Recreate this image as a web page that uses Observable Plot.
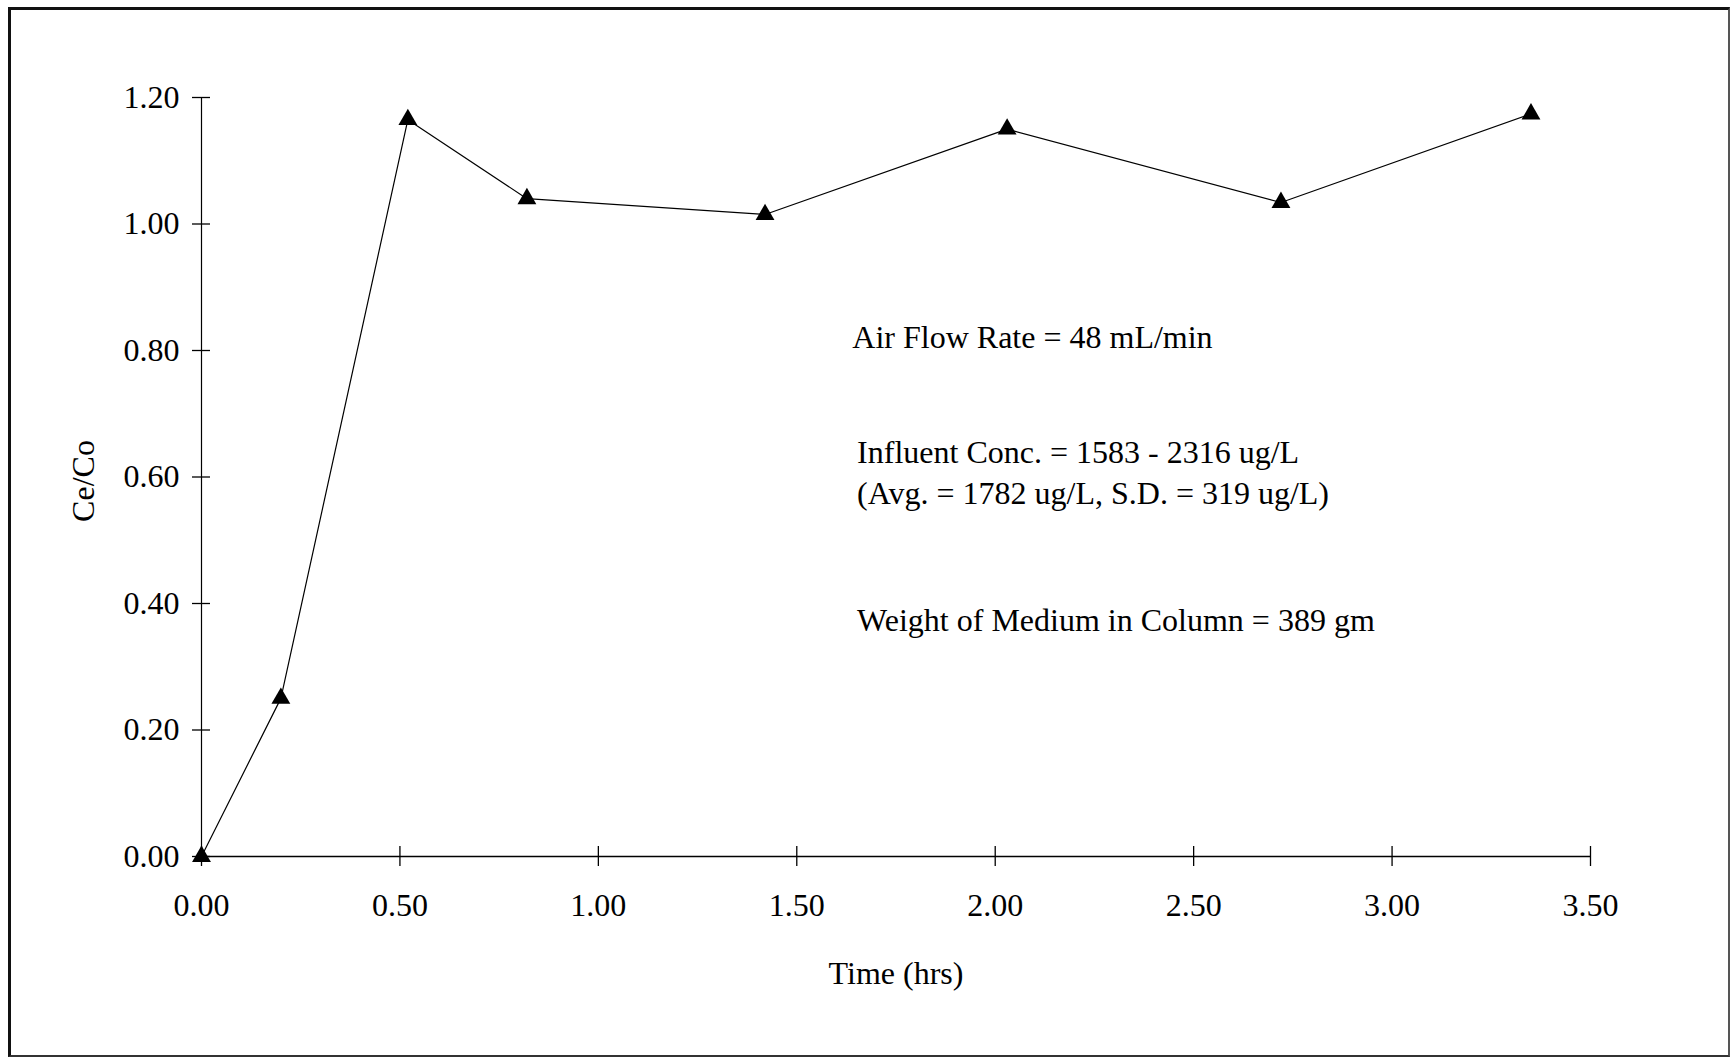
<!DOCTYPE html>
<html>
<head>
<meta charset="utf-8">
<script src="https://cdn.jsdelivr.net/npm/d3@7"></script>
<script src="https://cdn.jsdelivr.net/npm/@observablehq/plot@0.6"></script>
<style>
  html, body { margin: 0; padding: 0; background: #fff; }
  #wrap { position: relative; width: 1734px; height: 1057px; overflow: hidden; }
  #border { position: absolute; left: 8px; top: 7px; width: 1722px; height: 1050px;
            border-left: 3px solid #111; border-top: 3px solid #111; border-right: 2px solid #555; border-bottom: 2px solid #333; box-sizing: border-box; }
  svg { position: absolute; left: 0; top: 0; }
</style>
</head>
<body>
<div id="wrap"><div id="border"></div></div>
<script>
// Data
const timeHrs = [0.00, 0.20, 0.52, 0.82, 1.42, 2.03, 2.72, 3.35];
const ceCo    = [0.00, 0.25, 1.165, 1.04, 1.015, 1.15, 1.034, 1.174];
const xTicks = [0, 0.5, 1.0, 1.5, 2.0, 2.5, 3.0, 3.5];
const yTicks = [0, 0.2, 0.4, 0.6, 0.8, 1.0, 1.2];
const xLabel = "Time (hrs)";
const yLabel = "Ce/Co";
const notes = [
  "Air Flow Rate = 48 mL/min",
  "Influent Conc. = 1583 - 2316 ug/L",
  "(Avg. = 1782 ug/L, S.D. = 319 ug/L)",
  "Weight of Medium in Column = 389 gm"
];
// annotation anchors (data units)
const noteX = [1.64, 1.652, 1.652, 1.652];
const noteY = [0.82, 0.638, 0.574, 0.373];

const data = timeHrs.map((t, i) => ({t, v: ceCo[i]}));
const noteData = notes.map((s, i) => ({s, x: noteX[i], y: noteY[i]}));
const fmt = d3.format(".2f");

const chart = Plot.plot({
  width: 1734,
  height: 1057,
  marginLeft: 201,
  marginRight: 144,
  marginTop: 97,
  marginBottom: 201,
  style: {fontFamily: "'Liberation Serif', 'Times New Roman', serif", fontSize: "32px", color: "#000", background: "transparent"},
  x: {domain: [0, 3.5]},
  y: {domain: [0, 1.2]},
  marks: [
    Plot.ruleY([0], {stroke: "#000", strokeWidth: 1.3}),
    Plot.ruleX([0], {stroke: "#000", strokeWidth: 1.2}),
    Plot.ruleX(xTicks, {x: d => d, y1: 0, y2: 0, insetTop: -10, insetBottom: -10, stroke: "#000", strokeWidth: 1.3}),
    Plot.ruleY(yTicks, {y: d => d, x1: 0, x2: 0, insetLeft: -9, insetRight: -9, stroke: "#000", strokeWidth: 1.3}),
    Plot.axisX(xTicks, {tickSize: 0, tickPadding: 37, tickFormat: fmt, fontSize: 32, label: null}),
    Plot.axisY(yTicks, {tickSize: 0, tickPadding: 22, tickFormat: fmt, fontSize: 32, label: null}),
    Plot.text([xLabel], {frameAnchor: "bottom", dy: 117, fontSize: 32, textAnchor: "middle", lineAnchor: "middle"}),
    Plot.text([yLabel], {frameAnchor: "left", dx: -118, dy: 4, rotate: -90, fontSize: 32, textAnchor: "middle", lineAnchor: "middle"}),
    Plot.line(data, {x: "t", y: "v", stroke: "#000", strokeWidth: 1.2}),
    Plot.dot(data, {x: "t", y: "v", symbol: "triangle", r: 7, fill: "#000", stroke: "none"}),
    Plot.text(noteData, {x: "x", y: "y", text: "s", textAnchor: "start", fontSize: 32, lineAnchor: "middle"})
  ]
});
document.getElementById("wrap").appendChild(chart);
</script>
</body>
</html>
